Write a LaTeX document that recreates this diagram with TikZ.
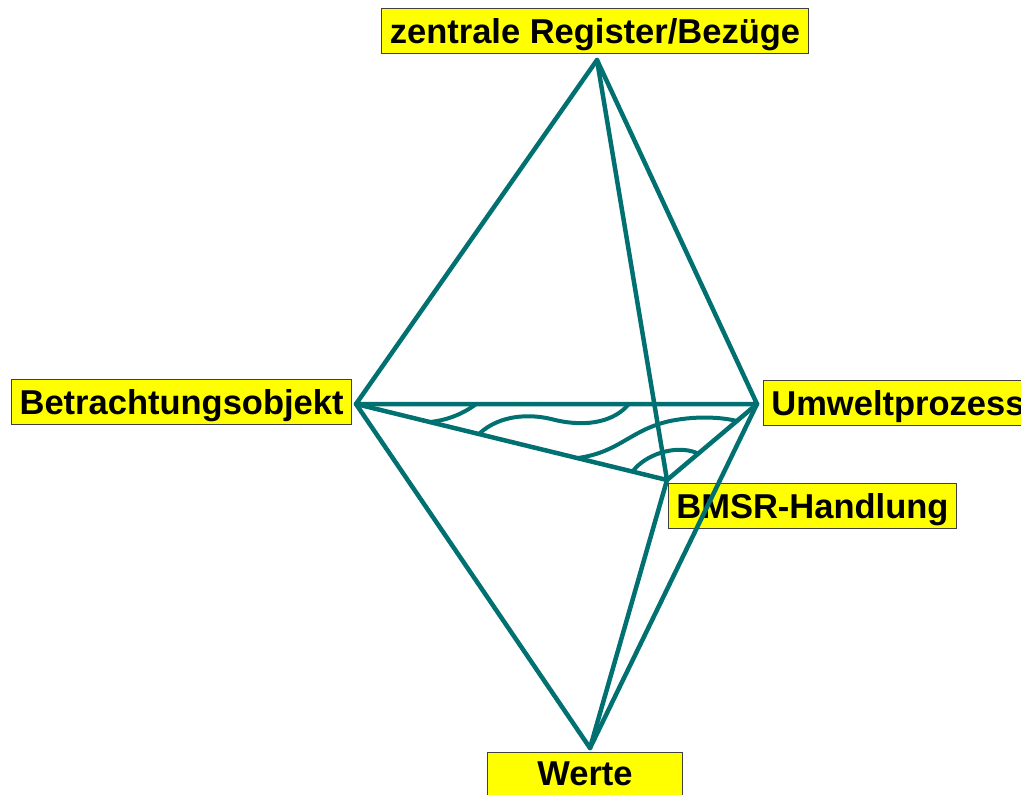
\documentclass[tikz,border=0pt]{standalone}
\usepackage{fontspec}
\setmainfont{Liberation Sans}
\usepackage{tikz}
\usetikzlibrary{positioning}
\usepackage{xcolor}
\definecolor{edgeteal}{HTML}{007070}
\definecolor{tagyellow}{HTML}{FFFF00}
\definecolor{tagframe}{HTML}{404040}

\begin{document}
\begin{tikzpicture}[
  x=1pt, y=-1pt,
  edge/.style={draw=edgeteal, line width=4.5pt, line join=round, line cap=round},
  wave/.style={draw=edgeteal, line width=4pt, line cap=round},
  tag/.style={draw=tagframe, line width=0.8pt, fill=tagyellow, inner xsep=8pt,
              inner ysep=0pt, text height=35pt, text depth=10pt,
              font=\fontsize{34.5}{40}\selectfont\bfseries},
]
  \useasboundingbox (0,0) rectangle (1021,795);
  % Corners
  \coordinate (top) at (597,60);
  \coordinate (left) at (356,404);
  \coordinate (right) at (757,404);
  \coordinate (mid) at (667,480);
  \coordinate (bottom) at (590,748);
  % Labels
  \node[tag] (register) at (595,31) {zentrale Register/Bezüge};
  \node[tag, anchor=east] (objekt) at (352,402) {Betrachtungsobjekt};
  \node[tag, anchor=west] (umwelt) at (763,403) {Umweltprozess};
  \node[tag, anchor=west] (bmsr) at (668,506) {BMSR-Handlung};
  \node[tag, anchor=north, minimum width=195pt, text height=33pt,
        text depth=20pt] (werte) at (585,752) {Werte};
  % Upper tetrahedron
  \draw[edge] (left) -- (top) -- (right) -- cycle;
  \draw[edge] (top) -- (mid);
  \draw[edge] (left) -- (mid) -- (right);
  % Lower tetrahedron
  \draw[edge] (left) -- (bottom) -- (right);
  \draw[edge] (mid) -- (bottom);
  % Waves in the base triangle
  \draw[wave] (430,422) .. controls (450,420) and (465,412) .. (475,405);
  \draw[wave] (480,433) .. controls (500,415) and (530,413) .. (555,420)
    .. controls (590,428) and (615,420) .. (628,405);
  \draw[wave] (578,458) .. controls (620,452) and (630,430) .. (670,421)
    .. controls (700,415) and (725,418) .. (737,421);
  \draw[wave] (633,471) .. controls (645,455) and (675,444) .. (697,453);
\end{tikzpicture}
\end{document}
